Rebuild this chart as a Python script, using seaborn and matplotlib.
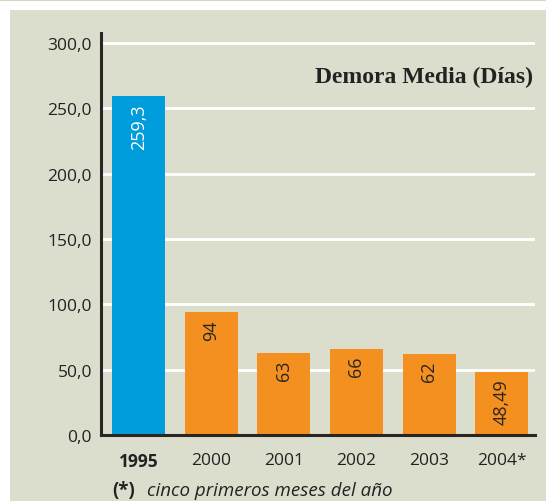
import numpy as np
import pandas as pd
import seaborn as sns
import matplotlib.pyplot as plt
from matplotlib.patches import Rectangle
from matplotlib.lines import Line2D

# Data
years = ["1995", "2000", "2001", "2002", "2003", "2004*"]
values = [259.3, 94, 63, 66, 62, 48.49]
labels = ["259,3", "94", "63", "66", "62", "48,49"]
bar_colors = ["#009ddc", "#f39020", "#f39020", "#f39020", "#f39020", "#f39020"]
yticks = [0, 50, 100, 150, 200, 250, 300]

df = pd.DataFrame({"year": years, "days": values})

sns.set_style("white")
plt.rcParams["font.family"] = ["Open Sans", "DejaVu Sans"]

W, H = 546, 502
fig = plt.figure(figsize=(W / 100, H / 100), dpi=100)
fig.patch.set_facecolor("white")

# beige panel + thin top rule
bg = "#dcdecd"
fig.patches.append(Rectangle((10 / W, 0), 1 - 10 / W, 1 - 11 / H,
                             transform=fig.transFigure, facecolor=bg,
                             edgecolor="none", zorder=-5))
fig.lines.append(Line2D([0, 1], [1 - 1 / H, 1 - 1 / H], transform=fig.transFigure,
                        color="#d4d6c6", lw=1.5, zorder=-5))

ax = fig.add_axes([101 / W, 1 - 436 / H, (535 - 101) / W, (436 - 34) / H])
ax.set_facecolor(bg)

sns.barplot(data=df, x="year", y="days", hue="year", palette=bar_colors,
            width=0.73, legend=False, saturation=1, linewidth=0,
            ax=ax, zorder=3)

ax.set_xlim(-0.52, 5.46)
ax.set_ylim(0, 307.6)
ax.set_yticks(yticks)
ax.set_yticklabels([f"{v:.1f}".replace(".", ",") for v in yticks], fontsize=12.5,
                   color="#222222")
ax.tick_params(axis="y", length=0, pad=6.5)
ax.tick_params(axis="x", length=0, pad=12)
ax.set_xticks(range(len(years)))
ax.set_xticklabels(years, fontsize=12.5, color="#222222")
ax.get_xticklabels()[0].set_fontweight("bold")
ax.set_xlabel("")
ax.set_ylabel("")

for y in yticks[1:]:
    ax.axhline(y, color="white", lw=2, zorder=1)

for s in ["top", "right"]:
    ax.spines[s].set_visible(False)
for s in ["left", "bottom"]:
    ax.spines[s].set_color("#2a2522")
    ax.spines[s].set_linewidth(2.2)
    ax.spines[s].set_zorder(5)

# value labels inside bars, rotated
for i, (v, lab) in enumerate(zip(values, labels)):
    ax.annotate(lab, (i, v), xytext=(0, -5), textcoords="offset points",
                rotation=90, ha="center", va="top", fontsize=13,
                color="white" if i == 0 else "#2a2522", zorder=6)

fig.text(533 / W, 1 - 77 / H, "Demora Media (Días)", ha="right", va="center",
         fontsize=17, fontweight="bold", family=["Liberation Serif", "DejaVu Serif"],
         color="#222222")

fig.text(112 / W, 1 - 491 / H, "(*)", ha="left", va="center", fontsize=13.5,
         fontweight="bold", color="#222222")
fig.text(147 / W, 1 - 491 / H, "cinco primeros meses del año", ha="left",
         va="center", fontsize=13.5, style="italic", color="#222222")

fig.savefig("out.png", dpi=100, facecolor=fig.get_facecolor())
